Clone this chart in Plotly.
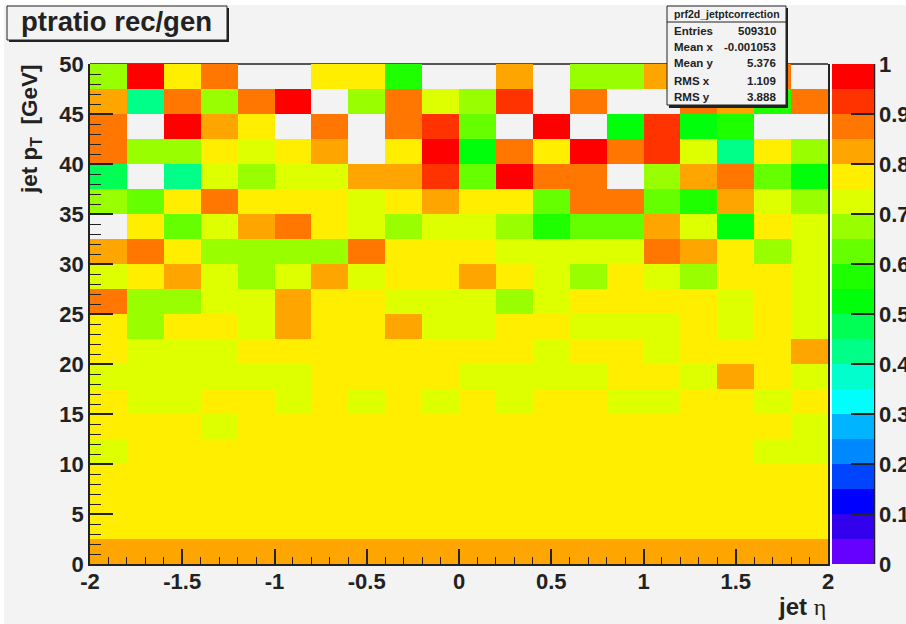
import plotly.graph_objects as go

W = None
R, r, O, o, Y, y, g, G, L, l, A, B = .975, .925, .875, .825, .775, .725, .675, .625, .575, .525, .475, .425

eta_edges = [-2, -1.8, -1.6, -1.4, -1.2, -1, -.8, -.6, -.4, -.2, 0, .2, .4, .6, .8, 1, 1.2, 1.4, 1.6, 1.8, 2]
pt_edges = [0, 2.5, 5, 7.5, 10, 12.5, 15, 17.5, 20, 22.5, 25, 27.5, 30, 32.5, 35, 37.5, 40, 42.5, 45, 47.5, 50]

row_00 = [o] * 20
row_01 = [Y] * 20
row_02 = [Y] * 20
row_03 = [Y] * 20
row_04 = [y, Y, Y, Y, Y, Y, Y, Y, Y, Y, Y, Y, Y, Y, Y, Y, Y, Y, y, y]
row_05 = [Y, Y, Y, y, Y, Y, Y, Y, Y, Y, Y, Y, Y, Y, Y, Y, Y, Y, Y, y]
row_06 = [Y, y, y, Y, Y, y, Y, y, Y, y, Y, y, Y, Y, y, y, Y, Y, y, Y]
row_07 = [y, y, y, y, y, y, Y, Y, Y, Y, y, y, y, y, Y, Y, y, o, Y, y]
row_08 = [Y, y, y, y, Y, Y, Y, Y, Y, Y, Y, Y, y, Y, Y, y, Y, Y, Y, o]
row_09 = [Y, g, Y, Y, y, o, Y, Y, o, y, y, Y, Y, y, y, y, Y, y, Y, y]
row_10 = [O, g, g, y, y, o, Y, Y, y, y, y, g, y, Y, Y, Y, Y, y, Y, y]
row_11 = [y, Y, o, y, g, y, o, y, Y, Y, o, Y, y, g, Y, y, g, Y, Y, y]
row_12 = [o, O, Y, g, g, g, g, O, Y, Y, Y, y, y, y, y, O, o, Y, g, y]
row_13 = [W, Y, G, y, o, O, Y, y, g, y, y, g, L, G, G, o, y, l, Y, y]
row_14 = [g, G, Y, O, Y, Y, Y, y, Y, o, Y, Y, G, O, O, G, L, o, y, g]
row_15 = [A, W, B, y, g, y, y, o, o, r, G, R, O, O, W, g, o, O, G, l]
row_16 = [O, g, g, Y, y, Y, o, W, Y, R, l, O, Y, R, O, r, y, B, Y, g]
row_17 = [O, W, R, o, Y, W, O, W, O, r, G, W, R, W, l, r, l, L, W, W]
row_18 = [o, B, O, g, O, R, W, g, O, y, g, r, W, O, W, W, O, o, L, O]
row_19 = [g, R, Y, O, W, W, Y, Y, L, W, W, o, W, g, g, o, W, W, O, W]

palette = ["#6600ff", "#3300ee", "#0000ff", "#0044ff", "#0088ff", "#00b4ff", "#00ffff", "#00ffcc",
           "#00ff88", "#00ff55", "#00ff0a", "#1eff00", "#66ff00", "#99ff00", "#ddff00", "#ffee00",
           "#ffa500", "#ff7700", "#ff3300", "#ff0000"]

x_tick_vals = [-2, -1.5, -1, -0.5, 0, 0.5, 1, 1.5, 2]
x_tick_text = ["-2", "-1.5", "-1", "-0.5", "0", "0.5", "1", "1.5", "2"]
y_tick_vals = [0, 5, 10, 15, 20, 25, 30, 35, 40, 45, 50]
z_tick_vals = [0, .1, .2, .3, .4, .5, .6, .7, .8, .9, 1]
z_tick_text = ["0", "0.1", "0.2", "0.3", "0.4", "0.5", "0.6", "0.7", "0.8", "0.9", "1"]

stat_names = ["Entries", "Mean x", "Mean y", "RMS x", "RMS y"]
stat_values = ["509310", "-0.001053", "5.376", "1.109", "3.888"]
stat_rows = [31, 47, 63, 81, 97]

rows = [row_00, row_01, row_02, row_03, row_04, row_05, row_06, row_07, row_08, row_09,
        row_10, row_11, row_12, row_13, row_14, row_15, row_16, row_17, row_18, row_19]

WIDTH, HEIGHT = 906, 624
LEFT, RIGHT, TOP, BOTTOM = 90, 828, 64, 564
BG = "#f3f3f3"
INK = "#222222"
FONT = "Liberation Sans"


def px(v):
    return (v - LEFT) / (RIGHT - LEFT)


def py(v):
    return (BOTTOM - v) / (BOTTOM - TOP)


n = len(palette)
scale = []
for i, c in enumerate(palette):
    scale += [[i / n, c], [(i + 1) / n, c]]

fig = go.Figure(go.Heatmap(
    x=eta_edges, y=pt_edges, z=rows, zmin=0, zmax=1, colorscale=scale, hoverongaps=False,
    colorbar=dict(
        x=px(832), xanchor="left", xpad=0, y=0, yanchor="bottom", ypad=0, len=1, lenmode="fraction",
        thickness=42, thicknessmode="pixels", outlinewidth=0, tickmode="array",
        tickvals=z_tick_vals, ticktext=z_tick_text, ticks="inside", ticklen=23, tickwidth=1.5,
        tickcolor=INK, tickfont=dict(family=FONT, size=22, color=INK, weight="bold"),
    ),
))


def rect(x0, y0, x1, y1, fill, line=None, lw=0, layer="above"):
    return dict(type="rect", xref="paper", yref="paper", x0=px(x0), x1=px(x1), y0=py(y0), y1=py(y1),
                fillcolor=fill, line=dict(color=line or fill, width=lw), layer=layer)


def seg(x0, y0, x1, y1, layer="above", lw=1.5):
    return dict(type="line", xref="paper", yref="paper", x0=px(x0), x1=px(x1), y0=py(y0), y1=py(y1),
                line=dict(color=INK, width=lw), layer=layer)


shapes = [
    rect(0, 0, 4, HEIGHT, "#ffffff", layer="below"),
    rect(0, 0, WIDTH, 5, "#ffffff", layer="below"),
    rect(829.5, TOP, 832, BOTTOM, "#ffffff", layer="below"),
    seg(LEFT, TOP, RIGHT, TOP, layer="below"),
    seg(874.5, TOP, 874.5, BOTTOM),
    rect(9, 8, 229, 42, INK),
    rect(7, 6, 227, 40, BG, INK, 1),
    rect(669, 8, 788, 108, INK),
    rect(667, 6, 786, 105, BG, INK, 1),
    seg(667, 22, 786, 22, lw=1),
]

annotations = []


def label(text, x, y, size, anchor="center", angle=0, yanchor="middle"):
    annotations.append(dict(text=text, xref="paper", yref="paper", x=px(x), y=py(y), xanchor=anchor,
                            yanchor=yanchor, showarrow=False, textangle=angle,
                            font=dict(family=FONT, size=size, color=INK, weight="bold")))


label("ptratio rec/gen", 116.5, 22, 27.5)
label("prf2d_jetptcorrection", 726.5, 14, 10.5)
for name, value, row in zip(stat_names, stat_values, stat_rows):
    label(name, 672, row, 11.5, anchor="left")
    label(value, 778, row, 11.5, anchor="right")
label("jet p<sub>T</sub>  [GeV]", 31, 130, 22.5, angle=-90)
label('jet <span style="font-family:Liberation Serif;font-weight:normal">η</span>', 828, 606, 24, anchor="right")

fig.update_layout(
    width=WIDTH, height=HEIGHT, autosize=False,
    margin=dict(l=LEFT, r=WIDTH - RIGHT, t=TOP, b=HEIGHT - BOTTOM, pad=0, autoexpand=False),
    paper_bgcolor=BG, plot_bgcolor=BG,
    shapes=shapes, annotations=annotations, showlegend=False,
    xaxis=dict(
        range=[-2, 2], tickmode="array", tickvals=x_tick_vals, ticktext=x_tick_text,
        ticks="inside", ticklen=15, tickwidth=1.5, tickcolor=INK, showgrid=False, zeroline=False,
        showline=True, linecolor=INK, linewidth=1.5, ticklabelstandoff=-3,
        tickfont=dict(family=FONT, size=22, color=INK, weight="bold"),
        minor=dict(dtick=0.1, ticks="inside", ticklen=7, tickwidth=1.2, tickcolor=INK, showgrid=False),
    ),
    yaxis=dict(
        range=[0, 50], tickmode="array", tickvals=y_tick_vals,
        ticks="inside", ticklen=23, tickwidth=1.5, tickcolor=INK, showgrid=False, zeroline=False,
        showline=True, linecolor=INK, linewidth=1.5, mirror=True,
        tickfont=dict(family=FONT, size=22, color=INK, weight="bold"),
        minor=dict(dtick=1, ticks="inside", ticklen=11, tickwidth=1.2, tickcolor=INK, showgrid=False),
    ),
)

fig.write_html("out.html", config=dict(displayModeBar=False),
               post_script="document.body.style.margin='0';document.body.style.overflow='hidden';")
